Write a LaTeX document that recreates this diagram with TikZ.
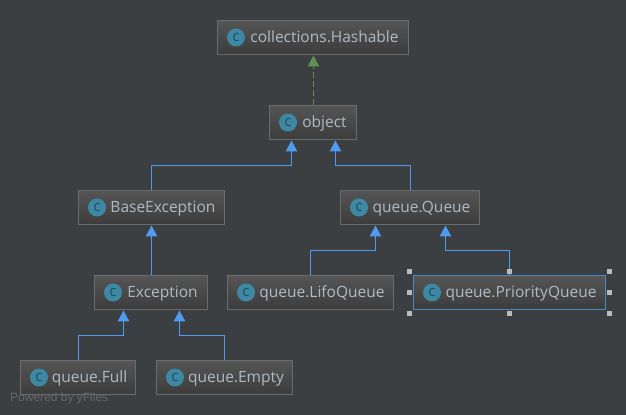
\documentclass[tikz,border=0pt]{standalone}
\usepackage{fontspec}
\setmainfont{Open Sans}
\newfontfamily\markfont{Liberation Sans}
\usetikzlibrary{arrows.meta,positioning}
\definecolor{canvas}{HTML}{3C3F41}
\definecolor{boxtop}{HTML}{555555}
\definecolor{boxbottom}{HTML}{3C3C3C}
\definecolor{boxline}{HTML}{6B6B6B}
\definecolor{labeltext}{HTML}{AEBAC6}
\definecolor{iconfill}{HTML}{3E88A3}
\definecolor{iconletter}{HTML}{1F4F63}
\definecolor{extendblue}{HTML}{4F9BF0}
\definecolor{implgreen}{HTML}{5F9150}
\definecolor{selectblue}{HTML}{4A88C7}
\definecolor{handlegray}{HTML}{BBBBBB}
\definecolor{markgray}{HTML}{64686A}

\begin{document}
\begin{tikzpicture}[font=\fontsize{15.5bp}{18bp}\selectfont]
  \tikzset{classbox/.style={draw=boxline,line width=1bp,top color=boxtop,bottom color=boxbottom,minimum height=34bp,inner sep=0pt,outer sep=0pt,text height=14bp,text depth=3bp,text=labeltext,execute at begin node={\hspace{23bp}}},
    classicon/.style={circle,fill=iconfill,minimum size=18bp,inner sep=0pt,text=iconletter,font=\fontsize{15bp}{15bp}\selectfont},
    extends/.style={draw=extendblue,line width=1bp,shorten >=1bp,-{Triangle[length=11bp,width=11.5bp]}},
    implements/.style={draw=implgreen,line width=1bp,shorten >=1bp,dash pattern=on 6bp off 3bp,-{Triangle[length=11bp,width=11.5bp]}},
    handle/.style={fill=handlegray,minimum size=5bp,inner sep=0pt,outer sep=0pt}}
  \fill[canvas] (0,0) rectangle (626bp,415bp);
  \useasboundingbox (0,0) rectangle (626bp,415bp);
  \node[classbox,minimum width=191bp] (hashable) at (313bp,377.5bp) {collections.Hashable};
  \node[classbox,minimum width=87bp,below=51bp of hashable] (object) {object};
  \node[classbox,minimum width=146bp,below=51bp of object,xshift=-161.5bp] (baseexc) {BaseException};
  \node[classbox,minimum width=139bp,below=51bp of object,xshift=97bp] (queue) {queue.Queue};
  \node[classbox,minimum width=113bp,below=51bp of baseexc,xshift=-.5bp] (exc) {Exception};
  \node[classbox,minimum width=166bp,below=51bp of queue,xshift=-99.5bp] (lifo) {queue.LifoQueue};
  \node[classbox,minimum width=192bp,draw=selectblue,right=20bp of lifo] (priority) {queue.PriorityQueue};
  \node[classbox,minimum width=115bp,below=51bp of exc,xshift=-73bp] (full) {queue.Full};
  \node[classbox,minimum width=136bp,right=21bp of full] (empty) {queue.Empty};
  \foreach \n in {hashable,object,baseexc,queue,exc,lifo,priority,full,empty}
    \node[classicon] (icon-\n) at ([xshift=18.5bp]\n.west) {c};
  % inheritance edges
  \draw[implements] ([xshift=.5bp]object.north) -- ([xshift=.5bp]hashable.south);
  \draw[extends] (baseexc.north) -- ++(0,25bp) -| ([xshift=-21.5bp]object.south);
  \draw[extends] ([xshift=.5bp]queue.north) -- ++(0,25bp) -| ([xshift=22.5bp]object.south);
  \draw[extends] (exc.north -| baseexc.south) -- (baseexc.south);
  \draw[extends] (lifo.north) -- ++(0,25bp) -| ([xshift=-34.5bp]queue.south);
  \draw[extends] (priority.north) -- ++(0,25bp) -| ([xshift=35.5bp]queue.south);
  \draw[extends] ([xshift=.5bp]full.north) -- ++(0,25bp) -| ([xshift=-27.5bp]exc.south);
  \draw[extends] (empty.north) -- ++(0,25bp) -| ([xshift=28.5bp]exc.south);
  % selection handles
  \foreach \a/\dx/\dy in {north west/-4/4,north/0/4,north east/4/4,west/-4/0,east/4/0,south west/-4/-4,south/0/-4,south east/4/-4}
    \node[handle] (handle-\a) at ([shift={(\dx bp,\dy bp)}]priority.\a) {};
  \node[text=markgray,font=\markfont\fontsize{12bp}{14bp}\selectfont,anchor=west,inner sep=0pt] (powered) at (10bp,16.5bp) {Powered by yFiles};
\end{tikzpicture}
\end{document}
